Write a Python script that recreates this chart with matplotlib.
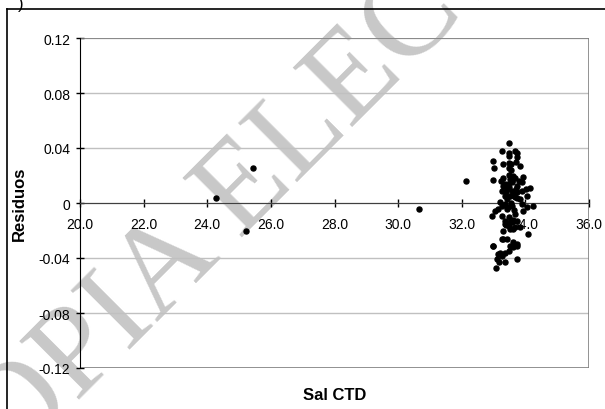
import matplotlib
matplotlib.use("Agg")
import matplotlib.pyplot as plt
from matplotlib.patches import Rectangle
from matplotlib.lines import Line2D

# salinity (CTD) vs residuals
sal_ctd = [24.27, 25.44, 25.22, 30.66, 32.13,
           33.50, 33.25, 33.48, 33.66, 33.75, 33.48, 33.73, 32.99, 33.31, 33.49,
           33.56, 33.83, 33.02, 33.48, 33.71, 33.47, 33.52, 33.66, 33.94, 32.99,
           33.22, 33.57, 33.88, 33.31, 33.44, 33.75, 34.02, 34.15, 33.26, 33.41,
           33.57, 33.73, 33.88, 33.36, 33.52, 33.68, 33.83, 34.04, 33.20, 33.36,
           33.57, 34.04, 34.23, 33.26, 33.15, 33.05, 32.94, 33.41, 33.26, 33.36,
           33.57, 33.73, 33.47, 33.68, 33.83, 33.31, 33.52, 34.09, 33.26, 33.41,
           33.73, 33.62, 32.99, 33.47, 33.36, 33.15, 33.26, 33.10, 33.73, 33.36,
           33.18, 33.08, 33.75, 33.50, 33.60, 33.40, 33.70, 33.55, 33.65, 33.45,
           33.35, 33.60, 33.80, 33.50, 33.62, 33.40, 33.30, 33.75, 33.90, 33.55,
           33.43, 33.68, 33.58, 33.94, 33.62, 33.52, 33.36, 33.62, 33.31, 33.62,
           33.52, 32.99, 33.20]
residuos = [0.0034, 0.0255, -0.0200, -0.0041, 0.0162,
            0.0439, 0.0381, 0.0361, 0.0376, 0.0366, 0.0344, 0.0335, 0.0308, 0.0286, 0.0291,
            0.0286, 0.0272, 0.0255, 0.0255, 0.0301, 0.0201, 0.0174, 0.0184, 0.0191, 0.0167,
            0.0158, 0.0158, 0.0150, 0.0126, 0.0138, 0.0126, 0.0102, 0.0109, 0.0090, 0.0102,
            0.0090, 0.0078, 0.0090, 0.0053, 0.0053, 0.0041, 0.0029, 0.0053, 0.0005, -0.0007,
            -0.0020, -0.0032, -0.0020, -0.0024, -0.0044, -0.0056, -0.0092, -0.0044, -0.0092, -0.0129,
            -0.0141, -0.0129, -0.0165, -0.0177, -0.0177, -0.0201, -0.0189, -0.0226, -0.0262, -0.0262,
            -0.0298, -0.0322, -0.0315, -0.0347, -0.0364, -0.0371, -0.0383, -0.0407, -0.0407, -0.0427,
            -0.0427, -0.0475, -0.0310, 0.0120, 0.0060, 0.0080, 0.0100, 0.0000, -0.0050, -0.0030,
            0.0140, 0.0200, 0.0160, -0.0100, -0.0120, -0.0160, 0.0180, 0.0040, -0.0010, 0.0240,
            0.0030, -0.0080, 0.0150, -0.0056, -0.0129, -0.0141, -0.0153, -0.0189, -0.0262, -0.0286,
            -0.0310, -0.0310, -0.0360]

x_ticks = [20, 22, 24, 26, 28, 30, 32, 34, 36]
y_ticks = [-0.12, -0.08, -0.04, 0, 0.04, 0.08, 0.12]
y_ticklabels = ["-0.12", "-0.08", "-0.04", "0", "0.04", "0.08", "0.12"]

plt.rcParams["font.family"] = ["Liberation Sans", "DejaVu Sans"]

fig = plt.figure(figsize=(6.05, 4.10), dpi=100)
fig.patch.set_facecolor("white")

# watermark behind everything
fig.text(-0.080, -0.288, "COPIA ELECTRONICA", family="Liberation Serif",
         fontsize=92, color="#c8c8c8", rotation=45, rotation_mode="anchor",
         ha="left", va="baseline", zorder=-5)

ax = fig.add_axes([80 / 605, 1 - 369 / 410, 509 / 605, 330 / 410])
ax.set_facecolor("none")

ax.scatter(sal_ctd, residuos, s=13, color="black", zorder=4, clip_on=False)

ax.set_xlim(20, 36)
ax.set_ylim(-0.12, 0.12)
ax.set_xticks(x_ticks)
ax.set_xticklabels([f"{v:.1f}" for v in x_ticks])
ax.set_yticks(y_ticks)
ax.set_yticklabels(y_ticklabels)

ax.grid(axis="y", color="#c0c0c0", lw=1)
ax.set_axisbelow(True)

for s in ["top", "right"]:
    ax.spines[s].set_visible(False)
ax.spines["bottom"].set_position(("data", 0))
ax.spines["bottom"].set_color("#404040")
ax.spines["left"].set_color("black")

# plot area frame
ax.add_patch(Rectangle((0, 0), 1, 1, transform=ax.transAxes, fill=False,
                       ec="#808080", lw=1.2, zorder=1))

ax.tick_params(axis="both", direction="inout", length=6, width=1,
               labelsize=10, colors="black")
ax.tick_params(axis="x", pad=7)
ax.tick_params(axis="y", pad=4)

ax.set_xlabel("Sal CTD", fontsize=12, fontweight="bold")
ax.xaxis.set_label_coords(0.5, -0.058)
ax.set_ylabel("Residuos", fontsize=12, fontweight="bold")
ax.yaxis.set_label_coords(-0.104, 0.5)

# chart border
fig.add_artist(Line2D([7 / 605, 1], [1 - 10 / 410, 1 - 10 / 410], color="black", lw=1.2))
fig.add_artist(Line2D([7 / 605, 7 / 605], [0, 1 - 10 / 410], color="black", lw=1.2))
fig.text(18 / 605, 1 - 4 / 410, ")", fontsize=12, va="center", ha="left")

fig.savefig("out.png", dpi=100)
